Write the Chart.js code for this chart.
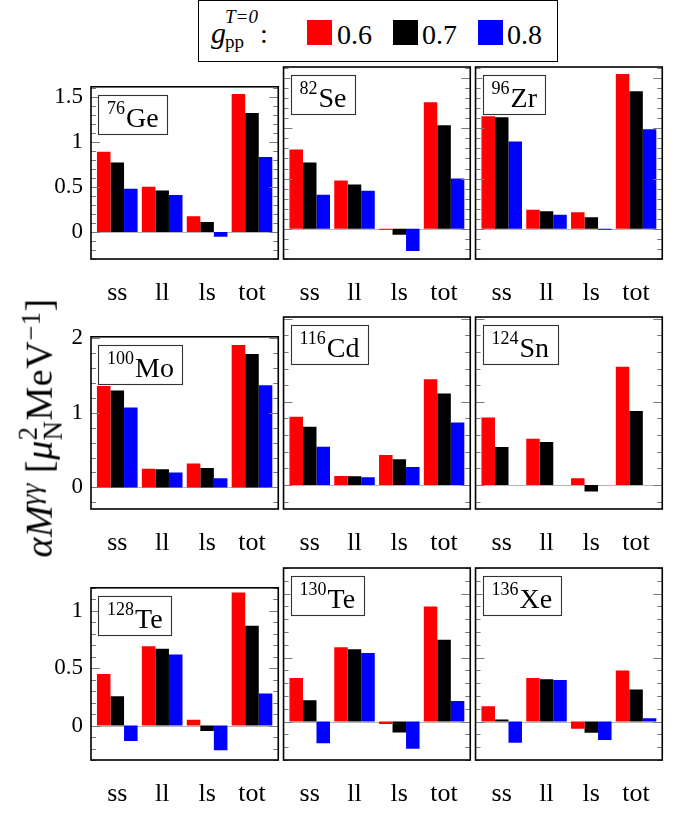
<!DOCTYPE html>
<html><head><meta charset="utf-8">
<script src="https://cdn.jsdelivr.net/npm/chart.js@4.4.1/dist/chart.umd.min.js"></script>
<style>
html,body{margin:0;padding:0;background:#fff;}
body{width:691px;height:813px;position:relative;overflow:hidden;font-family:'Liberation Serif','DejaVu Serif',serif;color:#000;}
canvas{position:absolute;}
#legend{position:absolute;left:198px;top:0;width:360px;height:62px;border:1.6px solid #000;box-sizing:border-box;background:#fff;}
#legend span{position:absolute;white-space:nowrap;line-height:1;}
#legend .sw{width:25px;height:25px;top:19px;}
#ytitle{position:absolute;left:41px;top:428px;transform:translate(-50%,-50%) rotate(-90deg);font-size:38px;letter-spacing:0.5px;white-space:nowrap;line-height:1;z-index:5;}
#ytitle sup{font-size:0.7em;vertical-align:0.45em;line-height:0;}
#ytitle .ss{display:inline-flex;flex-direction:column;font-size:0.7em;line-height:0.95;vertical-align:0.55em;}
</style></head>
<body>
<div id="legend">
  <span style="left:12px;top:17px;font-size:30px;font-style:italic;">g</span>
  <span style="left:26px;top:6px;font-size:19px;font-style:italic;">T=0</span>
  <span style="left:26px;top:31px;font-size:19px;">pp</span>
  <span style="left:61px;top:19px;font-size:28px;">:</span>
  <span class="sw" style="left:108px;background:#ff0000;"></span>
  <span id="l0" style="left:138px;top:20px;font-size:28px;"></span>
  <span class="sw" style="left:194px;background:#000000;"></span>
  <span id="l1" style="left:223px;top:20px;font-size:28px;"></span>
  <span class="sw" style="left:279px;background:#0000ff;"></span>
  <span id="l2" style="left:308px;top:20px;font-size:28px;"></span>
</div>
<div id="ytitle"><i>αM</i><sup><i>γγ</i></sup> [<i>μ</i><span class="ss"><span>2</span><span>N</span></span>MeV<sup>−1</sup>]</div>
<script>
// ---- data ----
const categories = ['ss', 'll', 'ls', 'tot'];
const gppLabels = ['0.6', '0.7', '0.8'];
const gppColors = ['#ff0000', '#000000', '#0000ff'];
const massNumbers = ['76', '82', '96', '100', '116', '124', '128', '130', '136'];
const elements = ['Ge', 'Se', 'Zr', 'Mo', 'Cd', 'Sn', 'Te', 'Te', 'Xe'];

// values per category (ss, ll, ls, tot) for g_pp^{T=0} = 0.6, 0.7, 0.8
const ge76_g06 = [0.89, 0.50, 0.175, 1.53];
const ge76_g07 = [0.77, 0.46, 0.11, 1.32];
const ge76_g08 = [0.48, 0.41, -0.053, 0.83];

const se82_g06 = [0.79, 0.48, -0.01, 1.26];
const se82_g07 = [0.66, 0.44, -0.06, 1.03];
const se82_g08 = [0.34, 0.38, -0.22, 0.50];

const zr96_g06 = [1.12, 0.19, 0.165, 1.54];
const zr96_g07 = [1.11, 0.175, 0.116, 1.37];
const zr96_g08 = [0.87, 0.14, -0.01, 0.99];

const mo100_g06 = [1.36, 0.25, 0.32, 1.91];
const mo100_g07 = [1.30, 0.244, 0.26, 1.79];
const mo100_g08 = [1.07, 0.20, 0.124, 1.37];

const cd116_g06 = [0.82, 0.108, 0.36, 1.27];
const cd116_g07 = [0.70, 0.104, 0.31, 1.10];
const cd116_g08 = [0.46, 0.092, 0.216, 0.75];

const sn124_g06 = [0.81, 0.556, 0.08, 1.42];
const sn124_g07 = [0.456, 0.516, -0.08, 0.89];
const sn124_g08 = [null, null, null, null];

const te128_g06 = [0.45, 0.69, 0.05, 1.16];
const te128_g07 = [0.255, 0.67, -0.047, 0.87];
const te128_g08 = [-0.135, 0.62, -0.215, 0.28];

const te130_g06 = [0.34, 0.58, -0.018, 0.90];
const te130_g07 = [0.166, 0.566, -0.086, 0.64];
const te130_g08 = [-0.17, 0.535, -0.213, 0.16];

const xe136_g06 = [0.12, 0.34, -0.055, 0.40];
const xe136_g07 = [0.016, 0.33, -0.088, 0.25];
const xe136_g08 = [-0.166, 0.325, -0.143, 0.026];

const panelData = [
  [ge76_g06, ge76_g07, ge76_g08],
  [se82_g06, se82_g07, se82_g08],
  [zr96_g06, zr96_g07, zr96_g08],
  [mo100_g06, mo100_g07, mo100_g08],
  [cd116_g06, cd116_g07, cd116_g08],
  [sn124_g06, sn124_g07, sn124_g08],
  [te128_g06, te128_g07, te128_g08],
  [te130_g06, te130_g07, te130_g08],
  [xe136_g06, xe136_g07, xe136_g08]
];

// y tick labels per row, axis limits and minor tick step
const row1Ticks = [0, 0.5, 1, 1.5];
const row2Ticks = [0, 1, 2];
const row3Ticks = [0, 0.5, 1];
const rowTicks = [row1Ticks, row2Ticks, row3Ticks];
const rowMin = [-0.30, -0.29, -0.30];
const rowMax = [1.61, 2.02, 1.20];
const rowMinorStep = [0.1, 0.2, 0.1];

gppLabels.forEach((l, i) => { document.getElementById('l' + i).textContent = l; });

// ---- layout ----
const FONT = "'Liberation Serif', 'DejaVu Serif', serif";
const colLeft = [91, 283, 475], rowTop = [67, 317, 568];
const PW = 192, PH = 192, YW = 50, XH = 50, PAD = 2;

const decoPlugin = {
  id: 'deco',
  beforeDatasetsDraw(chart) {
    const { ctx, chartArea: a, scales: { y } } = chart;
    const y0 = Math.round(y.getPixelForValue(0)) + 0.5;
    ctx.save();
    ctx.strokeStyle = '#b5b5b5'; ctx.lineWidth = 1;
    ctx.beginPath(); ctx.moveTo(a.left, y0); ctx.lineTo(a.right, y0); ctx.stroke();
    ctx.restore();
  },
  afterDatasetsDraw(chart, args, opts) {
    const { ctx, chartArea: a, scales: { y } } = chart;
    ctx.save();
    ctx.strokeStyle = '#7a7a7a'; ctx.lineWidth = 1;
    const step = opts.minorStep;
    const i0 = Math.ceil(y.min / step - 1e-9), i1 = Math.floor(y.max / step + 1e-9);
    for (let i = i0; i <= i1; i++) {
      const v = i * step;
      const major = opts.major.some(m => Math.abs(m - v) < 1e-6);
      const len = major ? 9 : 5;
      const py = Math.round(y.getPixelForValue(v)) + 0.5;
      ctx.beginPath();
      ctx.moveTo(a.left, py); ctx.lineTo(a.left + len, py);
      ctx.moveTo(a.right - len, py); ctx.lineTo(a.right, py);
      ctx.stroke();
    }
    ctx.strokeStyle = '#000'; ctx.lineWidth = 1.6;
    ctx.strokeRect(a.left, a.top, a.right - a.left, a.bottom - a.top);
    const supFont = '18px ' + FONT, mainFont = '28px ' + FONT;
    ctx.font = supFont; const ws = ctx.measureText(opts.mass).width;
    ctx.font = mainFont; const wm = ctx.measureText(opts.symbol).width;
    const bx = a.left + 7, by = a.top + 8, bw = 9 + ws + 1 + wm + 8, bh = 39;
    ctx.fillStyle = '#fff'; ctx.fillRect(bx, by, bw, bh);
    ctx.strokeStyle = '#333'; ctx.lineWidth = 1.1;
    ctx.strokeRect(Math.round(bx) + 0.5, Math.round(by) + 0.5, Math.round(bw), bh);
    ctx.fillStyle = '#000'; ctx.textBaseline = 'alphabetic'; ctx.textAlign = 'left';
    ctx.font = supFont; ctx.fillText(opts.mass, bx + 9, by + 19);
    ctx.font = mainFont; ctx.fillText(opts.symbol, bx + 9 + ws + 1, by + 32);
    ctx.restore();
  }
};

panelData.forEach((series, p) => {
  const r = Math.floor(p / 3), c = p % 3;
  const leftExtra = c === 0 ? YW : PAD;
  const w = leftExtra + PW + PAD, h = PAD + PH + XH;
  const cv = document.createElement('canvas');
  cv.width = w; cv.height = h;
  cv.style.left = (colLeft[c] - leftExtra) + 'px';
  cv.style.top = (rowTop[r] - PAD) + 'px';
  cv.style.width = w + 'px'; cv.style.height = h + 'px';
  document.body.appendChild(cv);
  new Chart(cv, {
    type: 'bar',
    data: {
      datasets: series.map((vals, k) => ({
        label: gppLabels[k],
        data: vals.map((v, i) => ({ x: i, y: v })),
        backgroundColor: gppColors[k],
        borderWidth: 0,
        barPercentage: 1,
        categoryPercentage: 0.905
      }))
    },
    options: {
      responsive: false, animation: false, devicePixelRatio: 1,
      layout: { padding: { left: c === 0 ? 0 : PAD, right: PAD, top: PAD, bottom: 0 } },
      plugins: {
        legend: { display: false }, tooltip: { enabled: false },
        deco: { minorStep: rowMinorStep[r], major: rowTicks[r], mass: massNumbers[p], symbol: elements[p] }
      },
      scales: {
        x: {
          type: 'linear', min: -0.585, max: 3.585, offset: false,
          afterBuildTicks: s => { s.ticks = categories.map((_, i) => ({ value: i })); },
          afterFit: s => { s.height = XH; },
          grid: { display: false, drawTicks: false, offset: false }, border: { display: false },
          ticks: { callback: v => categories[v], font: { family: FONT, size: 26 }, color: '#000', padding: 19, maxRotation: 0, autoSkip: false }
        },
        y: {
          type: 'linear', display: c === 0, min: rowMin[r], max: rowMax[r],
          afterBuildTicks: s => { s.ticks = rowTicks[r].map(v => ({ value: v })); },
          afterFit: s => { s.width = c === 0 ? YW : 0; },
          grid: { display: false, drawTicks: false }, border: { display: false },
          ticks: { callback: v => String(v), font: { family: FONT, size: 23 }, color: '#000', padding: 8 }
        }
      }
    },
    plugins: [decoPlugin]
  });
});
</script>
</body></html>
